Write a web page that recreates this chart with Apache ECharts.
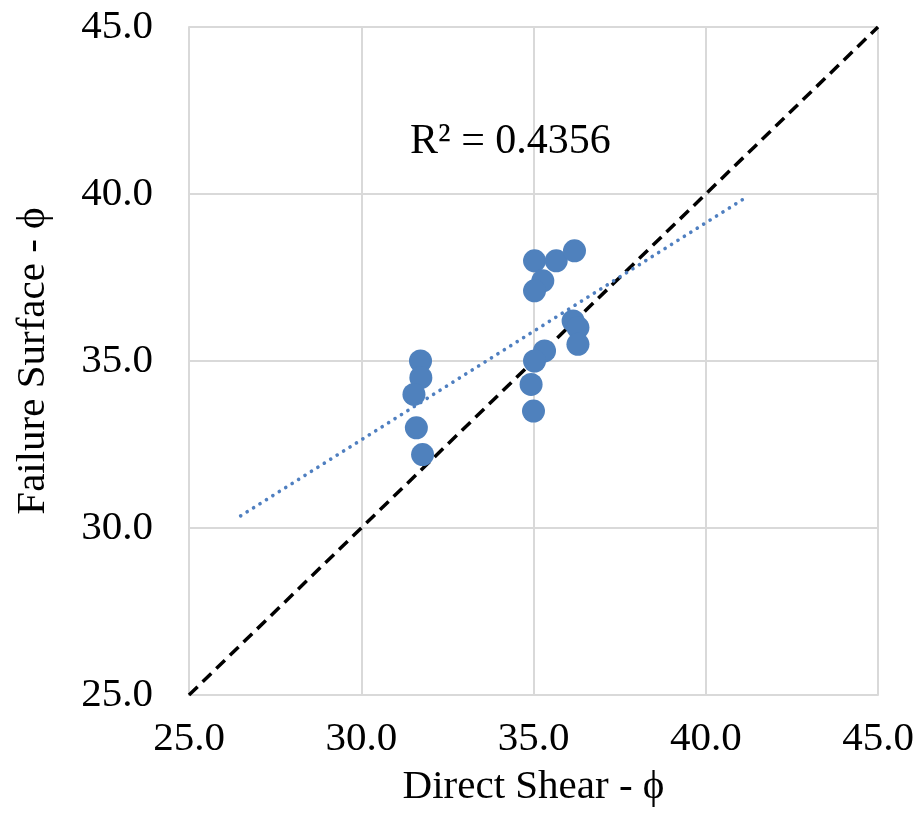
<!DOCTYPE html>
<html>
<head>
<meta charset="utf-8">
<script src="https://cdn.jsdelivr.net/npm/echarts@6/dist/echarts.min.js"></script>
<style>
  html, body { margin: 0; padding: 0; background: #ffffff; }
  #chart { width: 921px; height: 813px; }
</style>
</head>
<body>
<div id="chart"></div>
<script>
// Friction angle from direct shear tests vs. angle back-calculated from failure surfaces
const directShear = [31.72, 31.73, 31.53, 31.60, 31.78,
                     35.03, 35.66, 36.19, 35.27, 35.03, 36.15, 36.29, 36.29, 35.32, 35.03, 34.93, 35.00];
const failureSurface = [35.0, 34.5, 34.0, 33.0, 32.2,
                        38.0, 38.0, 38.3, 37.4, 37.1, 36.2, 36.0, 35.5, 35.3, 35.0, 34.3, 33.5];

// Trendline extent (forecast range) and label
const trendRange = [26.5, 41.2];
const rSquaredText = 'R² = 0.4356';
const rSquaredAt = [34.33, 41.56];

// 1:1 reference line
const oneToOne = [[25, 25], [45, 45]];

const axisMin = 25, axisMax = 45, axisStep = 5;

// Least-squares fit of failureSurface on directShear
function linearFit(xs, ys) {
  const n = xs.length;
  let sx = 0, sy = 0;
  for (let i = 0; i < n; i++) { sx += xs[i]; sy += ys[i]; }
  const mx = sx / n, my = sy / n;
  let sxy = 0, sxx = 0;
  for (let i = 0; i < n; i++) {
    sxy += (xs[i] - mx) * (ys[i] - my);
    sxx += (xs[i] - mx) * (xs[i] - mx);
  }
  const slope = sxy / sxx;
  return { slope, intercept: my - slope * mx };
}
const fit = linearFit(directShear, failureSurface);
const trendPoints = trendRange.map(x => [x, fit.intercept + fit.slope * x]);

const points = directShear.map((x, i) => [x, failureSurface[i]]);

const serif = '"Liberation Serif", "Times New Roman", serif';
const gridColor = '#d9d9d9';

const chart = echarts.init(document.getElementById('chart'));
chart.setOption({
  animation: false,
  backgroundColor: '#ffffff',
  grid: { left: 189, right: 43, top: 27, bottom: 118 },
  xAxis: {
    type: 'value',
    min: axisMin, max: axisMax, interval: axisStep,
    name: 'Direct Shear - ϕ',
    nameLocation: 'middle',
    nameGap: 72,
    nameTextStyle: { fontFamily: serif, fontSize: 41, color: '#000' },
    axisLine: { show: true, lineStyle: { color: gridColor, width: 2 } },
    axisTick: { show: false },
    axisLabel: {
      fontFamily: serif, fontSize: 41, color: '#000', margin: 24,
      formatter: v => v.toFixed(1)
    },
    splitLine: { show: true, lineStyle: { color: gridColor, width: 2 } }
  },
  yAxis: {
    type: 'value',
    min: axisMin, max: axisMax, interval: axisStep,
    name: 'Failure Surface - ϕ',
    nameLocation: 'middle',
    nameGap: 135,
    nameTextStyle: { fontFamily: serif, fontSize: 41, color: '#000' },
    axisLine: { show: true, lineStyle: { color: gridColor, width: 2 } },
    axisTick: { show: false },
    axisLabel: {
      fontFamily: serif, fontSize: 41, color: '#000', margin: 36,
      formatter: v => v.toFixed(1)
    },
    splitLine: { show: true, lineStyle: { color: gridColor, width: 2 } }
  },
  series: [
    {
      name: '1:1',
      type: 'line',
      data: oneToOne,
      symbol: 'none',
      silent: true,
      lineStyle: { color: '#000', width: 3.5, type: [12, 7] },
      z: 2
    },
    {
      name: 'Trend',
      type: 'line',
      data: trendPoints,
      symbol: 'none',
      silent: true,
      lineStyle: { color: '#4f7fc0', width: 3.6, type: [0.1, 7.5], cap: 'round' },
      z: 3
    },
    {
      name: 'Data',
      type: 'scatter',
      data: points,
      symbol: 'circle',
      symbolSize: 23,
      itemStyle: { color: '#4f81bd', opacity: 1 },
      z: 4
    }
  ]
});

// R² annotation placed at its data position
const labelPos = chart.convertToPixel({ gridIndex: 0 }, rSquaredAt);
chart.setOption({
  graphic: [{
    type: 'text',
    x: labelPos[0],
    y: labelPos[1],
    z: 10,
    style: {
      text: rSquaredText,
      fill: '#000000',
      font: '42px ' + serif,
      align: 'center',
      verticalAlign: 'middle'
    }
  }]
});
</script>
</body>
</html>
